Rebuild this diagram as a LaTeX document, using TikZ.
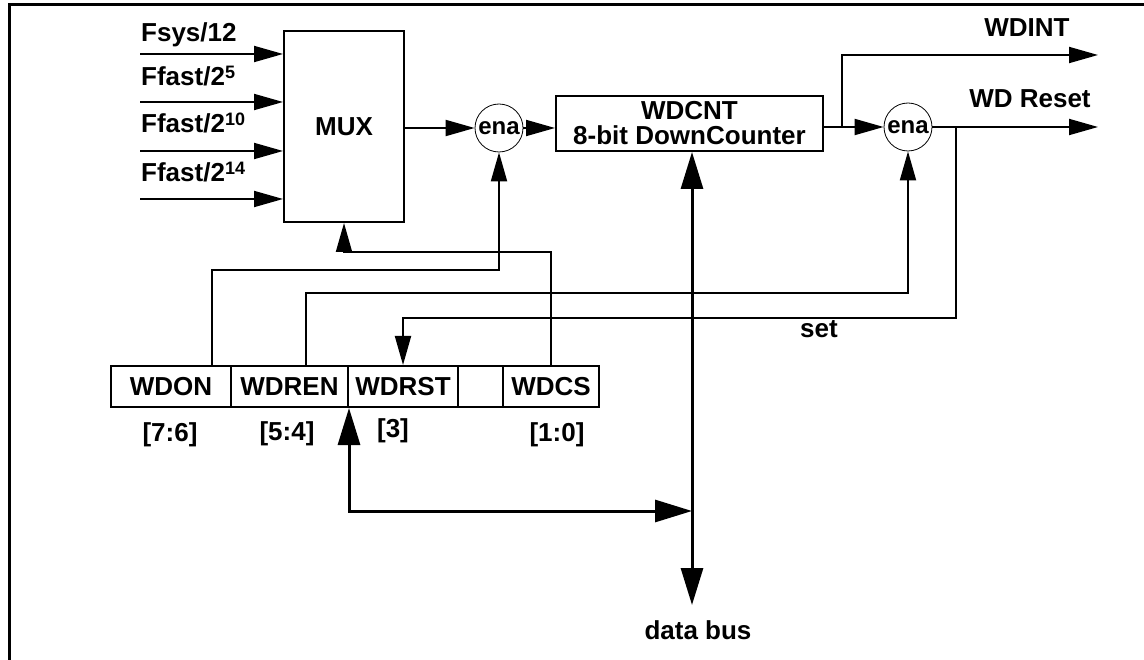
\documentclass[tikz,border=0pt]{standalone}
\usepackage{fontspec}
\setmainfont{Liberation Sans}
\usetikzlibrary{arrows.meta}

\newcommand\pw[1]{\raisebox{7pt}{\bfseries\fontsize{18}{18}\selectfont #1}}

\begin{document}
\begin{tikzpicture}
    [
      x=1pt, y=-1pt,
      font=\bfseries\fontsize{26}{25}\selectfont,
      block/.style={draw=black,line width=2pt,inner sep=0pt,align=center},
      gate/.style={draw=black,line width=0.8pt,circle,minimum size=48pt,
        inner sep=0pt,font=\bfseries\fontsize{24}{24}\selectfont},
      bit/.style={draw=black,line width=2pt,minimum height=41pt,inner sep=0pt},
      wire/.style={line width=2pt},
      sig/.style={wire,-{Triangle[length=29pt,width=16pt]}},
      bus/.style={line width=3pt,
        {Triangle[length=37pt,width=22pt]}-{Triangle[length=37pt,width=22pt]}},
      lbl/.style={inner sep=0pt}
    ]

    \useasboundingbox (0,0) rectangle (1144,660);
    \draw [line width=3pt] (9,660) -- (9,5) -- (1144,5);

    % blocks
    \node at (344,126.5) [block,minimum width=120pt,minimum height=191pt] (mux) {MUX};
    \node at (499,128) [gate] (ena1) {ena};
    \node at (689.5,123.5) [block,minimum width=267pt,minimum height=55pt] (wdcnt)
      {WDCNT\\8-bit DownCounter};
    \node at (908,127) [gate] (ena2) {ena};

    % register
    \node at (171,386.5) [bit,minimum width=120pt] (wdon) {WDON};
    \node at (289.5,386.5) [bit,minimum width=117pt] (wdren) {WDREN};
    \node at (403,386.5) [bit,minimum width=110pt] (wdrst) {WDRST};
    \node at (480.5,386.5) [bit,minimum width=45pt] (spare) {};
    \node at (551,386.5) [bit,minimum width=96pt] (wdcs) {WDCS};

    \node at (170,435) [lbl] (f76) {[7:6]};
    \node at (287,434) [lbl] (f54) {[5:4]};
    \node at (393,431) [lbl] (f3) {[3]};
    \node at (557,435) [lbl] (f10) {[1:0]};

    % clock inputs
    \coordinate (in1) at (140,54);
    \coordinate (in2) at (140,102);
    \coordinate (in3) at (140,151);
    \coordinate (in4) at (140,199);
    \node at (141,42) [lbl,anchor=base west] (l1) {Fsys/12};
    \node at (141,86) [lbl,anchor=base west] (l2) {Ffast/2\pw{5}};
    \node at (141,133) [lbl,anchor=base west] (l3) {Ffast/2\pw{10}};
    \node at (141,182) [lbl,anchor=base west] (l4) {Ffast/2\pw{14}};
    \foreach \i in {1,...,4}
      \draw [sig] (in\i) -- (in\i -| mux.west);

    % counter path
    \draw [sig] (mux.east |- ena1) -- (ena1);
    \draw [sig] (ena1) -- (ena1 -| wdcnt.west);
    \draw [sig] (wdcnt.east |- ena2) -- (ena2);

    \coordinate (tap) at (842,127);
    \coordinate (intout) at (1098,55);
    \coordinate (rstout) at (1098,127);
    \coordinate (settap) at (956,127);
    \draw [sig] (tap) |- (intout);
    \draw [sig] (ena2) -- (rstout);
    \node at (1027,28) [lbl] (wdint) {WDINT};
    \node at (1030,99) [lbl] (wdreset) {WD Reset};

    % control lines from the register
    \draw [sig] ([xshift=41pt]wdon.north) -- ++(0,-95) -| (ena1.south);
    \draw [sig] ([xshift=16.5pt]wdren.north) -- ++(0,-72) -| (ena2.south);
    \draw [sig] (wdcs.north) -- ++(0,-113) -| (mux.south);
    \draw [sig] (settap) -- (settap |- 0,318) -| (wdrst.north);
    \node at (819,329) [lbl] (set) {set};

    % data bus
    \coordinate (busend) at (692,605);
    \draw [bus] (busend) -- (busend |- wdcnt.south);
    \draw [bus] (wdren.south east) |- (busend |- 0,511);
    \node at (698,630) [lbl] (dbus) {data bus};
\end{tikzpicture}
\end{document}
